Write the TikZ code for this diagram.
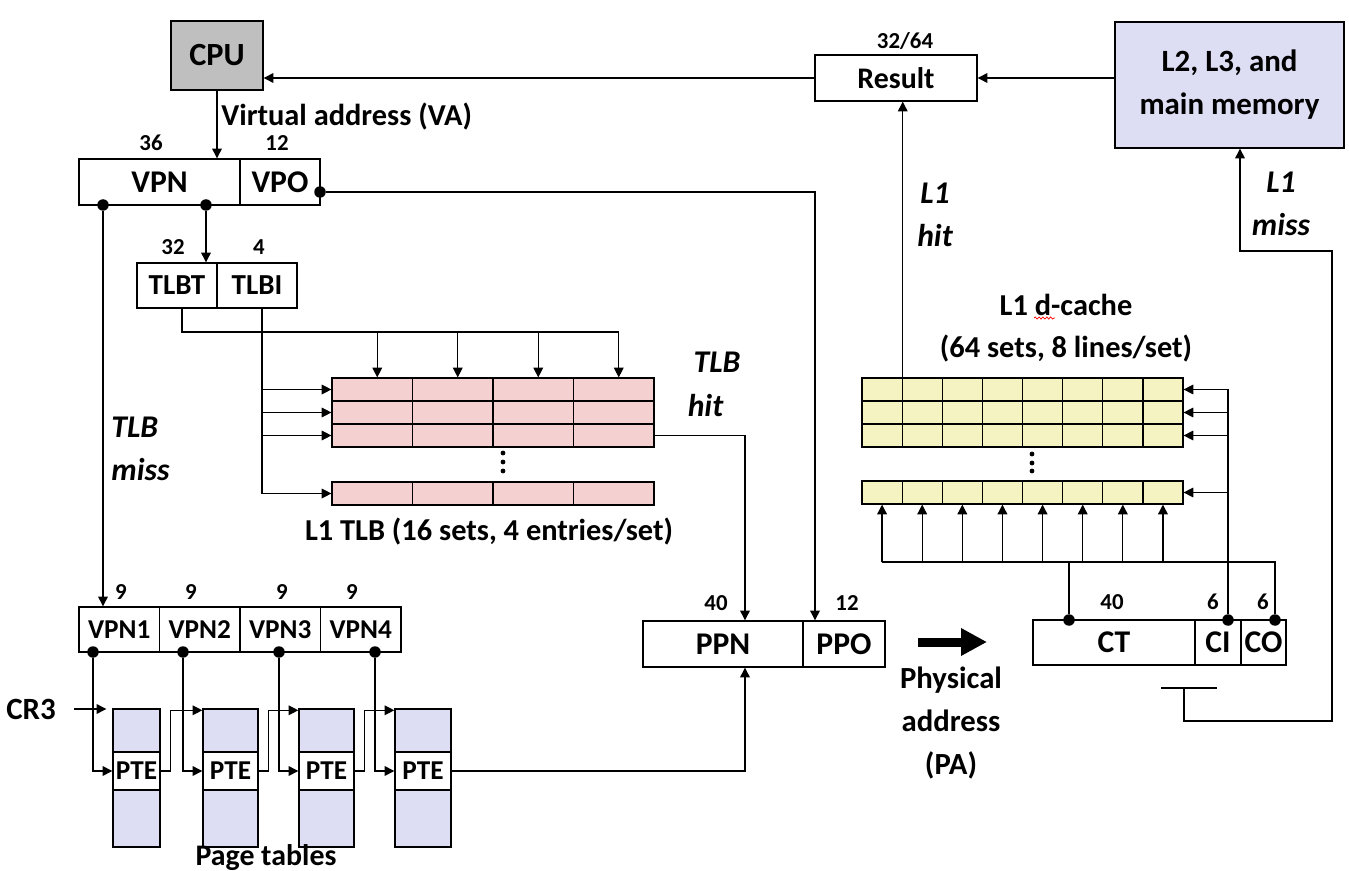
\documentclass[tikz,border=0pt]{standalone}
\usepackage{fontspec}
\setmainfont{Carlito}
\usepackage{tikz}
\usetikzlibrary{arrows.meta,decorations.pathmorphing}
\definecolor{cpugray}{RGB}{191,191,191}
\definecolor{memblue}{RGB}{221,221,243}
\definecolor{tlbpink}{RGB}{244,208,208}
\definecolor{cacheyel}{RGB}{245,243,193}
\newcommand{\bigfont}{\fontsize{18}{24.5}\selectfont\bfseries}
\newcommand{\midfont}{\fontsize{17.3}{24.5}\selectfont\bfseries}
\newcommand{\smallfont}{\fontsize{15.5}{18}\selectfont\bfseries}
\newcommand{\numfont}{\fontsize{13}{15}\selectfont\bfseries}
\tikzset{
  fld/.style={rectangle,draw,line width=0.8pt,inner sep=0pt,minimum height=0.92cm,font=\bigfont},
  tcell/.style={rectangle,draw,line width=0.7pt,fill=tlbpink,minimum width=1.61cm,minimum height=0.46cm,inner sep=0pt},
  ccell/.style={rectangle,draw,line width=0.7pt,fill=cacheyel,minimum width=0.8025cm,minimum height=0.46cm,inner sep=0pt},
  ptab/.style={rectangle,draw,line width=0.8pt,fill=memblue,inner sep=0pt,font=\smallfont},
  tap/.style={circle,fill,inner sep=0pt,minimum size=0.23cm},
  num/.style={font=\numfont,inner sep=0pt},
  lbl/.style={font=\midfont,inner sep=0pt},
  ital/.style={font=\fontsize{18}{24.5}\selectfont\bfseries\itshape,inner sep=0pt},
  arr/.style={-{Triangle[length=5.5pt,width=5.5pt]},line width=0.7pt},
  ln/.style={line width=0.7pt}
}
\begin{document}
\begin{tikzpicture}[x=0.02cm,y=-0.02cm]
\useasboundingbox (0,0) rectangle (1349,871);
% CPU, result and memory
\node (cpu) at (217,55.5) [fld,fill=cpugray,minimum width=1.84cm,minimum height=1.38cm,font=\fontsize{18.4}{22}\selectfont\bfseries] {CPU};
\node (result) at (896,78) [fld,minimum width=3.24cm,font=\fontsize{17}{20}\selectfont\bfseries] {Result};
\node (bres) at (905,41) [num] {32/64};
\node (mem) at (1229.5,85) [fld,fill=memblue,minimum width=4.58cm,minimum height=2.52cm,align=center,font=\fontsize{17.6}{24.5}\selectfont\bfseries] {L2, L3, and\\main memory};
\draw[arr] (result.west) -- (result.west -| cpu.east);
\draw[arr] (mem.west |- result.east) -- (result.east);

% virtual address
\node (vpn) at (159.5,182) [fld,minimum width=3.22cm] {VPN};
\node (vpo) at (280,182) [fld,minimum width=1.6cm] {VPO};
\node (bvpn) at (151,143) [num] {36};
\node (bvpo) at (277,143) [num] {12};
\node (va) at (221,117) [lbl,anchor=west] {Virtual address (VA)};
\draw[arr] (cpu.south) -- (cpu.south |- vpn.north);
\node (dva) at (103,205) [tap] {};
\node (dvb) at (206,205) [tap] {};
\node (dvpo) at (320,192) [tap] {};

% TLB index
\node (tlbt) at (177,285.5) [fld,minimum width=1.6cm,minimum height=0.9cm,font=\fontsize{16.5}{20}\selectfont\bfseries] {TLBT};
\node (tlbi) at (257,285.5) [fld,minimum width=1.6cm,minimum height=0.9cm,font=\fontsize{16.5}{20}\selectfont\bfseries] {TLBI};
\node (btlbt) at (173,247) [num] {32};
\node (btlbi) at (259,247) [num] {4};
\draw[arr] (dvb) -- (dvb |- tlbt.north);

% L1 TLB
\foreach \r/\y in {1/389.5,2/412.5,3/435.5,4/493.5} {
  \foreach \c in {1,...,4} {
    \node (t-\r-\c) at ({332+80.5*(\c-0.5)},\y) [tcell] {};
  }
}
\foreach \y in {453,462,471} \fill (503,\y) circle (2.4);
\node (tlbname) at (489,532) [lbl] {L1 TLB (16 sets, 4 entries/set)};
\coordinate (tagx) at ([xshift=0.1cm]tlbt.south);
\coordinate (idx) at ([xshift=0.1cm]tlbi.south);
\coordinate (tbus) at (182,332);
\foreach \c in {1,...,4} \coordinate (tc\c) at ([xshift=0.1cm]t-1-\c.north);
\draw[ln] (tagx) |- (tc4 |- tbus);
\foreach \c in {1,...,4} \draw[arr] (tc\c |- tbus) -- (tc\c);
\draw[ln] (idx) -- (idx |- t-4-1.west);
\foreach \r in {1,...,4} \draw[arr] (idx |- t-\r-1.west) -- (t-\r-1.west);
\node (thit1) at (717,362) [ital] {TLB};
\node (thit2) at (705.5,406) [ital] {hit};
\node (tmiss) at (111,449) [ital,anchor=west,align=left] {TLB\\miss};

% page table walk
\foreach \k/\x in {1/119.25,2/199.75,3/280.25,4/360.75} {
  \node (vpn\k) at (\x,629.5) [fld,minimum width=1.61cm,minimum height=0.9cm,font=\fontsize{15.5}{18}\selectfont\bfseries] {VPN\k};
}
\foreach \k/\x in {1/121,2/191,3/282,4/352} \node (b\k) at (\x,592) [num] {9};
\draw[arr] (dva) -- (dva |- vpn1.north);
\foreach \k/\xc/\w in {1/136.5/0.94,2/230.5/1.10,3/326.5/1.10,4/423/1.12} {
  \node (pt\k) at (\xc,730.5) [ptab,minimum width=\w cm,minimum height=0.86cm] {};
  \node (pte\k) at (\xc,771) [ptab,fill=white,minimum width=\w cm,minimum height=0.76cm] {PTE};
  \node (pb\k) at (\xc,818.5) [ptab,minimum width=\w cm,minimum height=1.14cm] {};
}
\foreach \k/\x in {1/93,2/183,3/279,4/375} {
  \node (dw\k) at (\x,652) [tap] {};
  \draw[arr] (dw\k) |- (pte\k.west);
}
\foreach \k/\n in {1/2,2/3,3/4} \draw[arr] (pte\k.east) -- ++(10,0) |- ([yshift=-0.04cm]pt\n.north west);
\node (cr3) at (31,709) [lbl,font=\fontsize{17.6}{20}\selectfont\bfseries] {CR3};
\draw[arr] ([xshift=0.36cm]cr3.east) -- ([xshift=-0.12cm]cr3.east -| pt1.west);
\node (ptname) at (266,858) [lbl,font=\fontsize{17}{20}\selectfont\bfseries] {Page tables};

% physical address
\node (ppn) at (723,644) [fld,minimum width=3.2cm] {PPN};
\node (ppo) at (844,644) [fld,minimum width=1.64cm] {PPO};
\node (bppn) at (716,603) [num] {40};
\node (bppo) at (847,603) [num] {12};
\draw[arr] (t-3-4.east) -| ([xshift=0.44cm]ppn.north);
\draw[arr] (pte4.east) -| ([xshift=0.44cm]ppn.south);
\draw[arr] (dvpo) -| ([xshift=-0.58cm]ppo.north);
\coordinate (paL) at (918,642);
\coordinate (paR) at (987,642);
\draw[line width=0.18cm,-{Triangle[length=0.52cm,width=0.52cm]}] (paL) -- (paR);
\node (pa) at (951,723) [lbl,align=center,font=\fontsize{17.5}{24.5}\selectfont\bfseries] {Physical\\address\\(PA)};

% L1 d-cache
\foreach \r/\y in {1/389.5,2/412.5,3/435.5,4/492.5} {
  \foreach \c in {1,...,8} {
    \node (c-\r-\c) at ({862+40.125*(\c-0.5)},\y) [ccell] {};
  }
}
\foreach \y in {454,463,471} \fill (1032,\y) circle (2.4);
\node (dc1) at (1066,305) [lbl] {L1 d-cache};
\draw[red,line width=0.4pt,decorate,decoration={snake,amplitude=0.6pt,segment length=2.2pt}] (1034,318) -- (1055,318);
\node (dc2) at (1066,349) [lbl] {(64 sets, 8 lines/set)};
\node (ct) at (1114,642.5) [fld,minimum width=3.24cm,minimum height=0.9cm] {CT};
\node (ci) at (1218,642.5) [fld,minimum width=0.92cm,minimum height=0.9cm] {CI};
\node (co) at (1263.5,642.5) [fld,minimum width=0.9cm,minimum height=0.9cm] {CO};
\node (bct) at (1112,602) [num] {40};
\node (bci) at (1213,602) [num] {6};
\node (bco) at (1263,602) [num] {6};
\node (dct) at (1069,620) [tap] {};
\node (dci) at (1228,620) [tap] {};
\node (dco) at (1275,620) [tap] {};
\coordinate (obus) at (1275,562);
\draw[ln] (dco) |- (c-4-1.south |- obus);
\foreach \c in {1,...,8} \draw[arr] (c-4-\c.south |- obus) -- (c-4-\c.south);
\draw[ln] (dct) -- (dct |- obus);
\draw[ln] (dci) -- (dci |- c-1-8.east);
\foreach \r in {1,...,4} \draw[arr] (dci |- c-\r-8.east) -- (c-\r-8.east);
\draw[arr] (c-1-1.north east) -- (c-1-1.north east |- result.south);
\node (l1hit) at (935,214.5) [ital,align=center] {L1\\hit};
\node (l1miss) at (1281,203.5) [ital,align=center] {L1\\miss};
\coordinate (tee) at (1184,688);
\draw[ln] (1161,688) -- (1217,688);
\draw[arr] (tee) |- (1332,721) -- (1332,251) -| ([xshift=0.21cm]mem.south);
\end{tikzpicture}
\end{document}
